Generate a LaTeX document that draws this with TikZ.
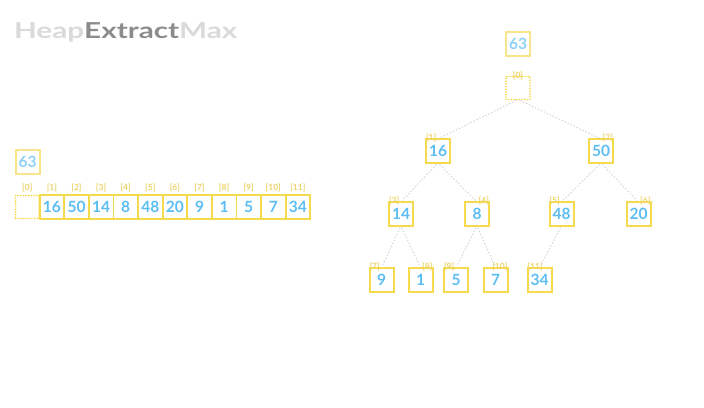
\documentclass[tikz,border=0pt]{standalone}
\usepackage{fontspec}
\setmainfont{Lato}
\begin{document}
\begin{tikzpicture}[x=1pt,y=-1pt,
  every node/.style={inner sep=0pt,outer sep=0pt},
  boxbase/.style={draw=boxyellow,line width=2pt,minimum width=24pt,minimum height=24pt,
     text=numblue,font=\fontsize{15.5}{16}\selectfont\bfseries},
  treebox/.style={boxbase},
  pale/.style={draw=paleyellow,text=paleblue},
  emptybox/.style={draw=boxyellow,line width=1.9pt,line cap=round,dash pattern=on 0pt off 2.7pt,
     minimum width=24pt,minimum height=23pt},
  cell/.style={boxbase,line width=1.8pt,minimum width=24.6pt,minimum height=24.5pt},
  idx/.style={text=labyellow,font=\fontsize{8.5}{9}\selectfont\bfseries},
  edge/.style={draw=edgegray,line width=0.9pt,dash pattern=on 1.5pt off 1.8pt,
     shorten <=2pt,shorten >=2pt}
]
\definecolor{boxyellow}{HTML}{F5DA4E}
\definecolor{paleyellow}{HTML}{F8E58A}
\definecolor{numblue}{HTML}{5CBDF2}
\definecolor{paleblue}{HTML}{8DD0F5}
\definecolor{labyellow}{HTML}{ECD36A}
\definecolor{edgegray}{HTML}{D2D2D2}
\definecolor{titlelight}{HTML}{DADADA}
\definecolor{titledark}{HTML}{8C8C8C}
\useasboundingbox (0,0) rectangle (704,407);

% title
\node[anchor=base west,font=\fontsize{22}{24}\selectfont\bfseries] (title) at (14,38)
  {\scalebox{1.35}[1]{\textcolor{titlelight}{Heap}\textcolor{titledark}{Extract}\textcolor{titlelight}{Max}}};

% ---------- array ----------
\node[boxbase,pale] (amax) at (27.5,162) {63};
\foreach \v [count=\i from 0] in {{},16,50,14,8,48,20,9,1,5,7,34} {
  \pgfmathsetmacro\cx{15+12.3+24.6*\i}
  \ifnum\i=0
    \node[emptybox,minimum width=23.5pt] (a\i) at (\cx,207) {};
  \else
    \node[cell] (a\i) at (\cx,207) {\v};
  \fi
  \node[idx] (al\i) at (\cx,187.5) {[\i]};
}

% ---------- tree ----------
\node[boxbase,pale] (tmax) at (518,44) {63};
\node[emptybox] (t0) at (518,88) {};
\node[idx,anchor=south] (tl0) at ([yshift=-3pt]t0.north) {[0]};

\node[treebox] (t1) at (438,151) {16};
\node[treebox] (t2) at (601,151) {50};
\node[treebox] (t3) at (401,214) {14};
\node[treebox] (t4) at (477,214) {8};
\node[treebox] (t5) at (561.5,214) {48};
\node[treebox] (t6) at (638.5,214) {20};
\node[treebox] (t7) at (381.5,279.5) {9};
\node[treebox] (t8) at (420.5,279.5) {1};
\node[treebox] (t9) at (456,279.5) {5};
\node[treebox] (t10) at (495.5,279.5) {7};
\node[treebox] (t11) at (539.5,279.5) {34};

% index labels
\foreach \n in {1,3,5,7,9,11}
  \node[idx,anchor=south west] (tl\n) at ([yshift=-3pt]t\n.north west) {[\n]};
\foreach \n in {2,4,6,8,10}
  \node[idx,anchor=south east] (tl\n) at ([yshift=-3pt]t\n.north east) {[\n]};

% edges
\draw[edge] (t0.south) -- (t1.north);
\draw[edge] (t0.south) -- (t2.north);
\draw[edge] (t1.south) -- (t3.north);
\draw[edge] (t1.south) -- (t4.north);
\draw[edge] (t2.south) -- (t5.north);
\draw[edge] (t2.south) -- (t6.north);
\draw[edge] (t3.south) -- (t7.north);
\draw[edge] (t3.south) -- (t8.north);
\draw[edge] (t4.south) -- (t9.north);
\draw[edge] (t4.south) -- (t10.north);
\draw[edge] (t5.south) -- (t11.north);
\end{tikzpicture}
\end{document}
